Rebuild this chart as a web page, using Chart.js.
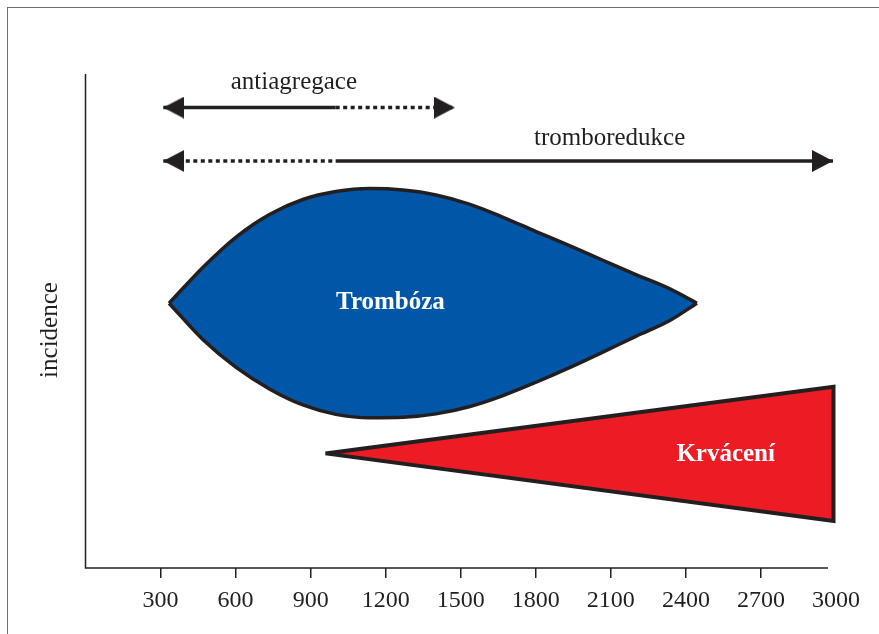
<!DOCTYPE html>
<html>
<head>
<meta charset="utf-8">
<script src="https://cdn.jsdelivr.net/npm/chart.js@4.4.1/dist/chart.umd.min.js"></script>
<style>
  html, body { margin: 0; padding: 0; background: #fff; overflow: hidden; }
  #frame { position: absolute; left: 7px; top: 7px; width: 1000px; height: 1000px;
           border-top: 1.5px solid #6d6e70; border-left: 1.5px solid #6d6e70; }
  #chart { position: absolute; left: 0; top: 0; }
</style>
</head>
<body>
<div id="frame"></div>
<canvas id="chart" width="879" height="634"></canvas>
<script>
// x = platelet count, y = relative incidence (0-100, no ticks shown)
const xTicks = [300, 600, 900, 1200, 1500, 1800, 2100, 2400, 2700, 3000];
const xAxisEnd = 2968;

// Trombóza - upper and lower outline of the blue drop
const thrombX = [334, 470, 602, 737, 869, 1001, 1137, 1269, 1401, 1537, 1669, 1801, 1937, 2068, 2200, 2336, 2444];
const thrombTopY = [53.6, 60.9, 67.0, 71.6, 74.6, 76.2, 76.8, 76.5, 75.5, 73.6, 71.0, 68.1, 65.2, 62.3, 59.4, 56.5, 53.6];
const thrombBotY = [53.6, 46.2, 40.6, 36.2, 33.0, 31.1, 30.4, 30.5, 31.2, 32.7, 34.9, 37.6, 40.6, 43.7, 46.9, 50.1, 53.6];

// Krvácení - red wedge (tip, top right, bottom right, back to tip)
const bleedX = [959, 2990, 2990, 959];
const bleedY = [23.2, 36.7, 9.5, 23.2];

// arrows: left tip, switch solid/dotted, right tip
const antiX = [311, 1000, 1477];
const antiY = [93.2, 93.2, 93.2];
const tromboX = [311, 1000, 2988];
const tromboY = [82.4, 82.4, 82.4];

const labelTexts = ['antiagregace', 'tromboredukce', 'Trombóza', 'Krvácení'];
const labelX = [833, 2095, 1219, 2559];
const labelY = [97.0, 85.6, 52.5, 21.7];

const INK = '#231f20';
const BLUE = '#0057a8';
const RED = '#ed1c24';
const SERIF = '"Liberation Serif", "DejaVu Serif", serif';

const toPoints = (xs, ys) => xs.map((x, i) => ({ x: x, y: ys[i] }));

// arrowhead with its tip in the centre of the image, pointing right
function makeArrowHead() {
    const c = document.createElement('canvas');
    c.width = 42;
    c.height = 22;
    const g = c.getContext('2d');
    g.fillStyle = INK;
    g.beginPath();
    g.moveTo(21, 11);
    g.lineTo(0, 0);
    g.lineTo(0, 22);
    g.closePath();
    g.fill();
    return c;
}
const arrowHead = makeArrowHead();

const arrowDataset = (xs, ys, dottedSegment) => ({
    data: toPoints(xs, ys),
    borderColor: INK,
    borderWidth: 3.5,
    fill: false,
    tension: 0,
    pointStyle: arrowHead,
    pointRotation: [180, 0, 0],
    pointRadius: [5, 0, 5],
    segment: {
        borderDash: ctx => ctx.p0DataIndex === dottedSegment ? [4, 3.5] : undefined
    }
});

const outline = (xs, ys, extra) => Object.assign({
    data: toPoints(xs, ys),
    borderColor: INK,
    borderWidth: 3.5,
    cubicInterpolationMode: 'monotone',
    pointRadius: 0
}, extra);

// axis lines: the x axis stops a little short of the 3000 tick
const axisLines = {
    id: 'axisLines',
    beforeDatasetsDraw(chart) {
        const { ctx, chartArea: a, scales: { x } } = chart;
        ctx.save();
        ctx.strokeStyle = INK;
        ctx.lineWidth = 1.5;
        ctx.beginPath();
        ctx.moveTo(a.left, a.top);
        ctx.lineTo(a.left, a.bottom);
        ctx.lineTo(x.getPixelForValue(xAxisEnd), a.bottom);
        ctx.stroke();
        ctx.restore();
    }
};

// in-chart labels and the rotated y title
const textLabels = {
    id: 'textLabels',
    afterDatasetsDraw(chart) {
        const { ctx, scales: { x, y }, chartArea: a } = chart;
        ctx.save();
        ctx.textAlign = 'center';
        ctx.textBaseline = 'alphabetic';
        labelTexts.forEach((t, i) => {
            const inShape = i >= 2;
            ctx.fillStyle = inShape ? '#ffffff' : INK;
            ctx.font = (inShape ? 'bold ' : '') + '25px ' + SERIF;
            ctx.fillText(t, x.getPixelForValue(labelX[i]), y.getPixelForValue(labelY[i]));
        });
        ctx.translate(57, (a.top + a.bottom) / 2 + 9);
        ctx.rotate(-Math.PI / 2);
        ctx.fillStyle = INK;
        ctx.font = '25px ' + SERIF;
        ctx.fillText('incidence', 0, 0);
        ctx.restore();
    }
};

new Chart(document.getElementById('chart'), {
    type: 'scatter',
    data: {
        datasets: [
            arrowDataset(antiX, antiY, 1),
            arrowDataset(tromboX, tromboY, 0),
            outline(thrombX, thrombTopY, { backgroundColor: BLUE, fill: '+1' }),
            outline(thrombX, thrombBotY, { fill: false }),
            {
                data: toPoints(bleedX, bleedY),
                borderColor: INK,
                borderWidth: 4,
                backgroundColor: RED,
                fill: 'shape',
                tension: 0,
                pointRadius: 0
            }
        ]
    },
    options: {
        responsive: false,
        animation: false,
        events: [],
        datasets: { scatter: { showLine: true } },
        layout: { padding: { left: 85.5, right: 43, top: 74, bottom: 11.2 } },
        plugins: {
            legend: { display: false },
            tooltip: { enabled: false },
            filler: { drawTime: 'beforeDatasetsDraw' }
        },
        scales: {
            x: {
                type: 'linear',
                min: 0,
                max: 3000,
                afterBuildTicks: axis => { axis.ticks = xTicks.map(v => ({ value: v })); },
                grid: {
                    drawOnChartArea: false,
                    drawTicks: true,
                    tickLength: 10,
                    lineWidth: 1.5,
                    color: ctx => (ctx.tick && ctx.tick.value === 3000) ? 'rgba(0,0,0,0)' : INK
                },
                border: { display: false },
                ticks: {
                    color: INK,
                    font: { family: SERIF, size: 24 },
                    padding: 8,
                    maxRotation: 0,
                    autoSkip: false,
                    callback: v => String(v)
                }
            },
            y: { display: false, min: 0, max: 100 }
        }
    },
    plugins: [axisLines, textLabels]
});
</script>
</body>
</html>
